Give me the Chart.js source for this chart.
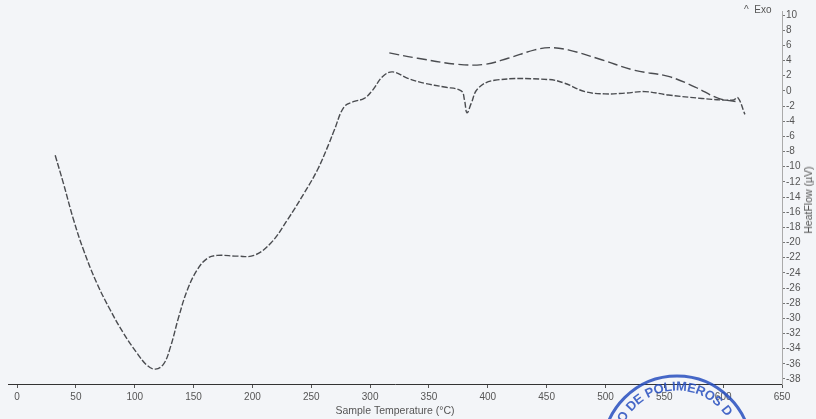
<!DOCTYPE html>
<html>
<head>
<meta charset="utf-8">
<script src="https://cdn.jsdelivr.net/npm/chart.js"></script>
<style>
  html, body { margin: 0; padding: 0; background: #f3f5f8; }
  #wrap { position: relative; width: 816px; height: 419px; }
  #exo { position: absolute; left: 744px; top: 4px; font: 10px "Liberation Sans", sans-serif; color: #555; }
  #y_title { position: absolute; left: 808px; top: 200px; transform: translate(-50%, -50%) rotate(-90deg);
    white-space: nowrap; font: 10.5px "Liberation Sans", sans-serif; color: #555; }
</style>
</head>
<body>
<div id="wrap">
  <canvas id="dsc_canvas" width="816" height="419"></canvas>
  <div id="exo">^&nbsp; Exo</div>
  <div id="y_title">HeatFlow (µV)</div>
</div>
<script>
// heating run (lower curve)
const heat_temp = [32.4, 39.4, 48.0, 56.5, 67.9, 79.2, 90.6, 102.0, 110.5, 117.6, 124.6, 130.3, 137.4, 144.6,
  153.1, 161.6, 170.1, 187.2, 201.3, 215.5, 229.8, 243.9, 255.3, 265.2, 269.5, 278.0, 286.5, 295.0, 302.2,
  310.7, 319.2, 332.0, 346.1, 363.2, 377.4, 380.2, 382.3, 385.9, 391.6, 405.8, 451.3, 465.4, 482.5, 499.5,
  516.5, 533.6, 553.5, 581.9, 598.9, 609.0, 612.5, 618.5];
const heat_flow = [-8.5, -12.2, -17.0, -21.0, -25.4, -28.9, -32.0, -34.6, -36.2, -36.7, -36.0, -33.8, -29.8, -26.3,
  -23.6, -22.1, -21.7, -21.8, -21.7, -20.1, -17.0, -13.5, -10.4, -6.9, -5.2, -2.1, -1.4, -1.0, 0.1,
  1.9, 2.5, 1.65, 1.0, 0.5, 0.0, -1.2, -2.9, -1.65, 0.3, 1.4, 1.5, 1.0, -0.1, -0.4,
  -0.3, -0.1, -0.55, -1.0, -1.2, -1.2, -0.9, -3.1];

// return run (upper curve)
const cool_temp = [316.3, 340.5, 374.6, 397.3, 417.2, 439.9, 452.6, 468.3, 496.7, 525.0, 553.5, 576.2, 596.1, 610.5];
const cool_flow = [5.0, 4.3, 3.5, 3.5, 4.3, 5.4, 5.7, 5.4, 4.1, 2.7, 1.9, 0.5, -1.0, -1.4];

const x_ticks = [0, 50, 100, 150, 200, 250, 300, 350, 400, 450, 500, 550, 600, 650];
const y_ticks = [10, 8, 6, 4, 2, 0, -2, -4, -6, -8, -10, -12, -14, -16, -18, -20, -22, -24, -26, -28, -30, -32, -34, -36, -38];

const ctx = document.getElementById('dsc_canvas').getContext('2d');
const font = { family: '"Liberation Sans", sans-serif', size: 10 };

function toPoints(xs, ys) {
	return xs.map((x, i) => ({ x: x, y: ys[i] }));
}

// blue lab stamp at the bottom
const stampPlugin = {
	id: 'stamp',
	afterDraw(chart) {
		const c = chart.ctx;
		const cx = 677, cy = 450, r = 74;
		c.save();
		c.strokeStyle = 'rgba(38,78,190,0.85)';
		c.fillStyle = 'rgba(38,78,190,0.85)';
		c.lineWidth = 3;
		c.beginPath();
		c.arc(cx, cy, r, 0, Math.PI * 2);
		c.stroke();
		c.font = 'bold 13px "Liberation Sans", sans-serif';
		c.textAlign = 'center';
		c.textBaseline = 'middle';
		const text = 'O DE POLIMEROS D';
		const tr = 63;
		let ang = -148.6 * Math.PI / 180 - (c.measureText('O').width / 2) / tr;
		for (const ch of text) {
			const w = c.measureText(ch).width + 0.3;
			const a = ang + (w / 2) / tr;
			c.save();
			c.translate(cx + tr * Math.cos(a), cy + tr * Math.sin(a));
			c.rotate(a + Math.PI / 2);
			c.fillText(ch, 0, 0);
			c.restore();
			ang += w / tr;
		}
		c.restore();
	}
};

new Chart(ctx, {
	type: 'scatter',
	data: {
		datasets: [{
			label: 'Heating',
			data: toPoints(heat_temp, heat_flow),
			showLine: true,
			borderColor: '#4a4c50',
			borderWidth: 1.4,
			borderDash: [6, 2],
			pointRadius: 0,
			tension: 0.4
		}, {
			label: 'Return',
			data: toPoints(cool_temp, cool_flow),
			showLine: true,
			borderColor: '#4a4c50',
			borderWidth: 1.4,
			borderDash: [10, 4],
			pointRadius: 0,
			tension: 0.4
		}]
	},
	options: {
		responsive: false,
		animation: false,
		layout: { padding: { left: 8, top: 11, right: 0, bottom: 0 } },
		plugins: { legend: { display: false }, tooltip: { enabled: false } },
		scales: {
			x: {
				type: 'linear',
				min: -7.7,
				max: 650,
				afterBuildTicks: axis => { axis.ticks = x_ticks.map(v => ({ value: v })); },
				afterFit: axis => { axis.height = 35; },
				ticks: { font: font, color: '#555', padding: 3, maxRotation: 0, autoSkip: false },
				grid: { drawOnChartArea: false, drawTicks: true, tickLength: 4, color: '#555' },
				border: { display: true, color: '#333', width: 1 },
				title: { display: true, text: 'Sample Temperature (°C)', font: { family: font.family, size: 10.5 }, color: '#555', padding: { top: 0, bottom: 2 } }
			},
			y: {
				type: 'linear',
				position: 'right',
				min: -38.66,
				max: 10.53,
				afterBuildTicks: axis => { axis.ticks = y_ticks.map(v => ({ value: v })); },
				afterFit: axis => { axis.width = 34; },
				ticks: { font: font, color: '#555', padding: 1, autoSkip: false },
				grid: { drawOnChartArea: false, drawTicks: true, tickLength: 3, color: '#777' },
				border: { display: true, color: '#aaa', dash: [1, 2] }
			}
		}
	},
	plugins: [stampPlugin]
});
</script>
</body>
</html>
